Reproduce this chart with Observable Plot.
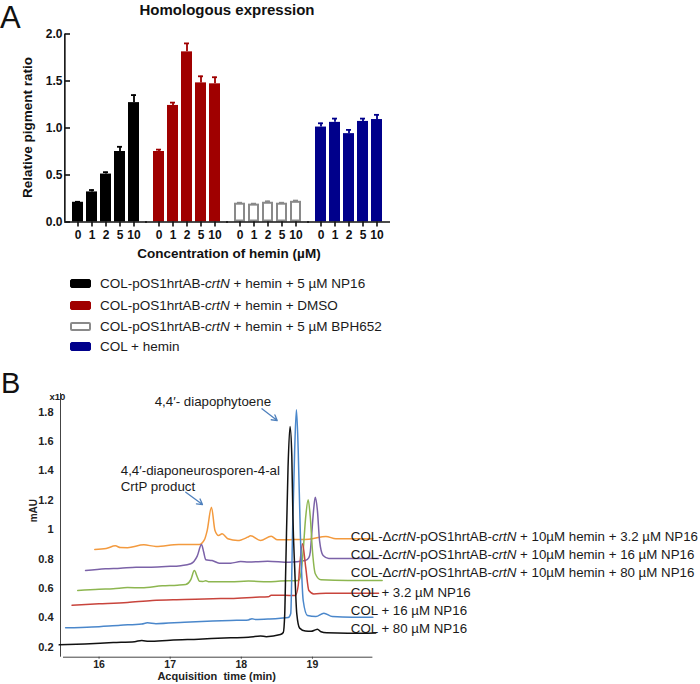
<!DOCTYPE html>
<html>
<head>
<meta charset="utf-8">
<script src="https://cdn.jsdelivr.net/npm/d3@7"></script>
<script src="https://cdn.jsdelivr.net/npm/@observablehq/plot@0.6"></script>
<style>
  body { margin: 0; background: #fff; font-family: "Liberation Sans", Arial, Helvetica, sans-serif; color: #111; }
  #page { position: relative; width: 700px; height: 684px; overflow: hidden; background: #fff; }
  .abs { position: absolute; }
  .letter { font-weight: normal; }
  .boldlab { font-weight: bold; font-size: 13.5px; white-space: nowrap; text-align: center; }
  .legrow { position: absolute; left: 70px; height: 20px; display: flex; align-items: center; font-size: 13.5px; white-space: nowrap; color: #1a1a1a; }
  .sw { width: 21px; height: 9px; border-radius: 2px; box-sizing: border-box; margin-right: 9px; }
</style>
</head>
<body>
<div id="page">
  <div class="abs letter" style="left:0px; top:1px; font-size:31px; line-height:34px;">A</div>
  <div class="abs boldlab" style="left:0px; top:1px; width:454px; font-size:15px;">Homologous expression</div>
  <div id="chartA" class="abs" style="left:0px; top:20px;"></div>
  <div class="abs boldlab" style="left:-73px; top:120px; width:200px; transform: rotate(-90deg);">Relative pigment ratio</div>
  <div class="abs boldlab" style="left:0px; top:246px; width:458px;">Concentration of hemin (µM)</div>
  <div id="legend"></div>
  <div class="abs letter" style="left:1px; top:371px; font-size:29px; line-height:24px;">B</div>
  <div id="chartB" class="abs" style="left:0px; top:380px;"></div>
</div>
<script>
const FONT = '"Liberation Sans", Arial, Helvetica, sans-serif';

// ---------- Panel A data ----------
const concentrations = ["0", "1", "2", "5", "10"];
const groupKeys = ["NP16", "DMSO", "BPH652", "COL"];
const legendLabels = [
  "COL-pOS1hrtAB-crtN + hemin + 5 µM NP16",
  "COL-pOS1hrtAB-crtN + hemin + DMSO",
  "COL-pOS1hrtAB-crtN + hemin + 5 µM BPH652",
  "COL + hemin"
];
const groupFill = ["#000000", "#a00000", "#ffffff", "#00008b"];
const groupStroke = ["#000000", "#a00000", "#8a8a8a", "#00008b"];
const np16Values = [0.21, 0.32, 0.51, 0.75, 1.27];
const np16Errors = [0.005, 0.02, 0.02, 0.05, 0.08];
const dmsoValues = [0.75, 1.24, 1.81, 1.48, 1.47];
const dmsoErrors = [0.02, 0.03, 0.09, 0.07, 0.07];
const bphValues = [0.20, 0.19, 0.21, 0.20, 0.22];
const bphErrors = [0.005, 0.005, 0.01, 0.005, 0.008];
const colValues = [1.01, 1.06, 0.94, 1.07, 1.09];
const colErrors = [0.04, 0.04, 0.04, 0.03, 0.05];
const yTicksA = [0, 0.5, 1.0, 1.5, 2.0];

// ---------- Panel B data (time in min, signal in mAU x10) ----------
const traceLabels = [
  "COL-ΔcrtN-pOS1hrtAB-crtN + 10µM hemin + 3.2 µM NP16",
  "COL-ΔcrtN-pOS1hrtAB-crtN + 10µM hemin + 16 µM NP16",
  "COL-ΔcrtN-pOS1hrtAB-crtN + 10µM hemin + 80 µM NP16",
  "COL + 3.2 µM NP16",
  "COL + 16 µM NP16",
  "COL + 80 µM NP16"
];
const traceColors = ["#f39a3e", "#7b62a8", "#8db650", "#c8443c", "#4a87cb", "#111111"];
const traceLabelLevels = [0.949, 0.831, 0.704, 0.574, 0.45, 0.325];
const orangeTrace = [[15.94,0.865],[16.1,0.872],[16.23,0.89],[16.3,0.878],[16.4,0.877],[16.63,0.897],[16.8,0.886],[17.12,0.899],[17.41,0.899],[17.48,0.93],[17.52,0.994],[17.58,1.153],[17.63,0.994],[17.68,0.96],[17.73,0.972],[17.81,0.938],[17.95,0.926],[18.09,0.949],[18.13,0.958],[18.27,0.926],[18.42,0.955],[18.51,0.931],[18.75,0.933],[18.95,0.935],[19.19,0.954],[19.33,0.938],[19.56,0.938],[19.85,0.938]];
const purpleTrace = [[15.81,0.722],[16.09,0.734],[16.3,0.738],[16.52,0.745],[16.7,0.744],[16.94,0.749],[17.15,0.755],[17.29,0.768],[17.38,0.82],[17.44,0.899],[17.47,0.85],[17.5,0.795],[17.59,0.79],[17.69,0.772],[17.85,0.772],[17.99,0.783],[18.1,0.78],[18.37,0.785],[18.67,0.778],[18.9,0.79],[18.95,0.81],[18.97,0.85],[18.99,0.972],[19.02,1.153],[19.04,1.221],[19.07,1.13],[19.1,0.926],[19.15,0.824],[19.23,0.804],[19.56,0.804],[19.93,0.804]];
const greenTrace = [[15.7,0.586],[16.0,0.595],[16.2,0.598],[16.4,0.606],[16.6,0.604],[16.89,0.618],[17.1,0.622],[17.22,0.627],[17.29,0.66],[17.34,0.722],[17.38,0.68],[17.41,0.649],[17.46,0.648],[17.5,0.652],[17.55,0.645],[17.85,0.645],[18.1,0.65],[18.37,0.645],[18.55,0.65],[18.81,0.654],[18.85,0.75],[18.87,0.858],[18.905,1.085],[18.94,1.203],[18.97,1.085],[19.0,0.858],[19.04,0.7],[19.12,0.659],[19.5,0.654],[19.98,0.654]];
const redTrace = [[15.62,0.486],[16.0,0.495],[16.4,0.505],[16.75,0.518],[17.2,0.524],[17.6,0.53],[17.85,0.532],[18.2,0.54],[18.38,0.544],[18.42,0.553],[18.6,0.553],[18.76,0.552],[18.8,0.62],[18.82,0.745],[18.86,0.905],[18.905,0.745],[18.95,0.586],[19.02,0.563],[19.19,0.568],[19.56,0.568],[19.93,0.568]];
const blueTrace = [[15.53,0.332],[15.9,0.338],[16.3,0.35],[16.6,0.358],[16.68,0.366],[16.8,0.36],[17.2,0.37],[17.6,0.378],[17.85,0.382],[18.1,0.386],[18.15,0.394],[18.2,0.388],[18.4,0.392],[18.55,0.397],[18.66,0.402],[18.695,0.43],[18.72,0.972],[18.75,1.539],[18.775,1.816],[18.8,1.539],[18.83,0.972],[18.87,0.518],[18.93,0.416],[19.05,0.409],[19.16,0.432],[19.28,0.409],[19.56,0.404],[19.85,0.404]];
const blackTrace = [[15.44,0.216],[15.8,0.222],[16.2,0.232],[16.5,0.238],[16.6,0.246],[16.7,0.24],[17.0,0.248],[17.4,0.255],[17.85,0.264],[18.1,0.268],[18.27,0.276],[18.35,0.272],[18.55,0.286],[18.59,0.3],[18.61,0.42],[18.625,0.745],[18.657,1.425],[18.685,1.702],[18.71,1.5],[18.725,1.1],[18.75,0.745],[18.78,0.427],[18.82,0.33],[18.9,0.31],[18.98,0.308],[19.04,0.318],[19.07,0.323],[19.12,0.305],[19.2,0.298],[19.5,0.295],[19.89,0.297]];
const traces = [orangeTrace, purpleTrace, greenTrace, redTrace, blueTrace, blackTrace];
const xTicksB = [16, 17, 18, 19];
const yTicksB = [0.2, 0.4, 0.6, 0.8, 1, 1.2, 1.4, 1.6, 1.8];
const xDomainB = [15.458, 19.85];
const yDomainB = [0.132, 1.927];
const traceLabelTime = 19.54;
const peakTitle = "4,4′- diapophytoene";
const peakTitleAt = [17.6, 1.868];
const productTitles = ["4,4′-diaponeurosporen-4-al", "CrtP product"];
const productTitlesAt = [[16.305, 1.403], [16.305, 1.289]];
const arrowsB = [[18.29, 1.823, 18.505, 1.743], [17.219, 1.255, 17.454, 1.171]];

// helper: italicise "crtN"
function italicSvgText(el) {
  const s = el.textContent;
  if (!s.includes("crtN")) return;
  el.textContent = "";
  s.split(/(crtN)/).forEach(part => {
    if (!part) return;
    const ts = document.createElementNS("http://www.w3.org/2000/svg", "tspan");
    if (part === "crtN") ts.setAttribute("font-style", "italic");
    ts.textContent = part;
    el.appendChild(ts);
  });
}
function italicHtml(s) {
  return s.split(/(crtN)/).map(p => p === "crtN" ? "<i>crtN</i>" : p).join("");
}

// ---------- Panel A ----------
const groupValues = [np16Values, dmsoValues, bphValues, colValues];
const groupErrors = [np16Errors, dmsoErrors, bphErrors, colErrors];
const barData = [];
groupKeys.forEach((g, gi) => concentrations.forEach((c, ci) => barData.push({
  group: g, gi, conc: c, value: groupValues[gi][ci], err: groupErrors[gi][ci]
})));

const plotA = Plot.plot({
  width: 400, height: 242,
  marginTop: 13.5, marginBottom: 40.5, marginLeft: 63, marginRight: 9,
  style: {fontFamily: FONT, fontSize: "12px", fontWeight: "bold", color: "#111", background: "transparent"},
  fx: {domain: groupKeys, paddingInner: 0.123, paddingOuter: 0.074, axis: null, label: null},
  x: {domain: concentrations, paddingInner: 0.23, paddingOuter: 0.115, label: null},
  y: {domain: [0, 2], label: null},
  color: {type: "identity"},
  marks: [
    Plot.barY(barData, {filter: d => d.gi !== 2, fx: "group", x: "conc", y: "value", fill: d => groupFill[d.gi]}),
    Plot.barY(barData, {filter: d => d.gi === 2, fx: "group", x: "conc", y: "value", fill: d => groupFill[d.gi], stroke: d => groupStroke[d.gi], strokeWidth: 2, inset: 1}),
    Plot.ruleX(barData, {fx: "group", x: "conc", y1: "value", y2: d => d.value + d.err, stroke: d => groupStroke[d.gi], strokeWidth: 1.8}),
    Plot.tickY(barData, {fx: "group", x: "conc", y: d => d.value + d.err, stroke: d => groupStroke[d.gi], strokeWidth: 1.8, insetLeft: 3, insetRight: 3}),
    Plot.ruleY([0], {insetLeft: -6, insetRight: -6, stroke: "#111", strokeWidth: 1.6}),
    Plot.ruleX([{group: groupKeys[0], conc: concentrations[0]}], {fx: "group", x: "conc", y1: 0, y2: 2, dx: -13.15, stroke: "#111", strokeWidth: 1.6}),
    Plot.axisY({ticks: yTicksA, tickFormat: d3.format(".1f"), tickSize: 5, tickPadding: 3, strokeWidth: 1.6, label: null}),
    Plot.axisX({tickSize: 5, tickPadding: 3, strokeWidth: 1.6, label: null})
  ]
});
document.getElementById("chartA").appendChild(plotA);

// legend
const legend = document.getElementById("legend");
const legendCenters = [283, 305, 326, 346];
legendLabels.forEach((lab, i) => {
  const row = document.createElement("div");
  row.className = "legrow";
  row.style.top = (legendCenters[i] - 10) + "px";
  const sw = document.createElement("div");
  sw.className = "sw";
  sw.style.background = groupFill[i];
  sw.style.border = i === 2 ? `2px solid ${groupStroke[i]}` : `1px solid ${groupStroke[i]}`;
  row.appendChild(sw);
  const t = document.createElement("span");
  t.innerHTML = italicHtml(lab);
  row.appendChild(t);
  legend.appendChild(row);
});

// ---------- Panel B ----------
const lineData = traces.flatMap((tr, i) => tr.map(([t, v]) => ({i, t, v})));
const labelData = traceLabels.map((label, i) => ({label, i, v: traceLabelLevels[i]}));
const productData = productTitles.map((text, i) => ({text, t: productTitlesAt[i][0], v: productTitlesAt[i][1]}));
const arrowData = arrowsB.map(([x1, y1, x2, y2]) => ({x1, y1, x2, y2}));

const plotB = Plot.plot({
  width: 700, height: 304,
  marginTop: 13, marginBottom: 27.3, marginLeft: 60, marginRight: 327.6,
  style: {fontFamily: FONT, fontSize: "11px", fontWeight: "bold", color: "#222", background: "transparent", overflow: "visible"},
  x: {domain: xDomainB, label: null},
  y: {domain: yDomainB, label: null},
  color: {type: "identity"},
  marks: [
    Plot.ruleX([xDomainB[0]], {stroke: "#444", strokeWidth: 1}),
    Plot.ruleY([yDomainB[0]], {stroke: "#444", strokeWidth: 1, insetLeft: 3}),
    Plot.axisX({ticks: xTicksB, tickFormat: d => String(d), tickSize: 2, tickPadding: 1, fontSize: 10.5, stroke: "#444", label: null}),
    Plot.axisY({ticks: yTicksB, tickFormat: d => String(d), tickSize: 0, tickPadding: 7, label: null}),
    Plot.text(["x10"], {frameAnchor: "top-left", dx: -11, dy: 0, fontSize: 9.5, fontWeight: "bold"}),
    Plot.text(["mAU"], {frameAnchor: "left", dx: -27, dy: -3, rotate: -90, fontSize: 10, fontWeight: "bold"}),
    Plot.text(["Acquisition  time (min)"], {frameAnchor: "bottom", dy: 22.5, fontSize: 11, fontWeight: "bold"}),
    Plot.line(lineData, {x: "t", y: "v", z: "i", stroke: d => traceColors[d.i], strokeWidth: 1.5, curve: "monotone-x"}),
    Plot.text(labelData, {x: () => traceLabelTime, y: "v", text: "label", textAnchor: "start", fontSize: 13.3, fontWeight: "normal", fill: "#1a1a1a"}),
    Plot.text([peakTitle], {x: () => peakTitleAt[0], y: () => peakTitleAt[1], text: d => d, textAnchor: "middle", fontSize: 13.3, fontWeight: "normal", fill: "#1a1a1a"}),
    Plot.text(productData, {x: "t", y: "v", text: "text", textAnchor: "start", fontSize: 13.3, fontWeight: "normal", fill: "#1a1a1a"}),
    Plot.arrow(arrowData, {x1: "x1", y1: "y1", x2: "x2", y2: "y2", stroke: "#4f81bd", strokeWidth: 1.3, headLength: 7})
  ]
});
plotB.querySelectorAll("text").forEach(italicSvgText);
document.getElementById("chartB").appendChild(plotB);
</script>
</body>
</html>
